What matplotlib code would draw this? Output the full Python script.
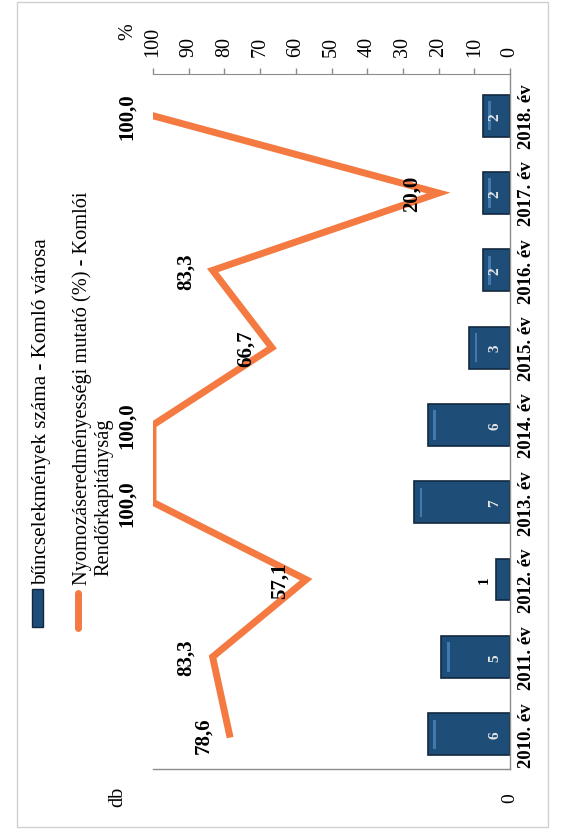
import numpy as np
import matplotlib
matplotlib.use("Agg")
import matplotlib.pyplot as plt
from matplotlib.patches import Rectangle
from matplotlib.lines import Line2D

years = ["2010. év", "2011. év", "2012. év", "2013. év", "2014. év",
         "2015. év", "2016. év", "2017. év", "2018. év"]
crimes = [6, 5, 1, 7, 6, 3, 2, 2, 2]
clearance = [78.6, 83.3, 57.1, 100.0, 100.0, 66.7, 83.3, 20.0, 100.0]
pct_ticks = [0, 10, 20, 30, 40, 50, 60, 70, 80, 90, 100]
legend_labels = ["bűncselekmények száma - Komló városa",
                 "Nyomozáseredményességi mutató (%) - Komlói",
                 "Rendőrkapitányság"]

plt.rcParams['font.family'] = ['Liberation Serif', 'DejaVu Serif']

W, H = 566, 837
fig = plt.figure(figsize=(W / 100, H / 100), dpi=100)
fig.patch.set_facecolor('white')


def fx(px):
    return px / W


def fy(py):
    return 1 - py / H


NAVY = '#1e4d78'
NAVY_EDGE = '#10283f'
HILITE = '#4a86bd'
ORANGE = '#f47a42'
GREY = '#8c8c8c'

ax = fig.add_axes([fx(153), fy(770), fx(510) - fx(153), fy(75) - fy(770)])
idx = np.arange(len(years))
crimes_arr = np.array(crimes, dtype=float)
ax.barh(idx, crimes_arr, height=0.54, color=NAVY, edgecolor=NAVY_EDGE, linewidth=1.2, zorder=2)
# bevel highlight near the bar end
big = crimes_arr >= 2
ax.barh(idx[big], 0.18, left=crimes_arr[big] - 0.6, height=0.38, color=HILITE,
        linewidth=0, alpha=0.8, zorder=2.5)
ax.set_xlim(26, 0)
ax.set_ylim(-0.45, 8.54)

ax.yaxis.tick_right()
ax.set_yticks(idx)
ax.set_yticklabels(years, rotation=90, va='center', fontsize=13.5, fontweight='bold')
ax.tick_params(axis='y', length=0, pad=6)
ax.set_xticks([0])
ax.set_xticklabels(['0'], rotation=90, fontsize=14)
ax.tick_params(axis='x', length=0, pad=17)

for s in ['left', 'top']:
    ax.spines[s].set_visible(False)
for s in ['right', 'bottom']:
    ax.spines[s].set_color(GREY)
    ax.spines[s].set_linewidth(1.0)

for i, c in enumerate(crimes):
    if c >= 2:
        ax.text(1.1, i, str(c), rotation=90, ha='center', va='center',
                color='#e6e6e6', fontsize=11, fontweight='bold', zorder=3)
    else:
        ax.text(c + 0.9, i, str(c), rotation=90, ha='center', va='center',
                color='black', fontsize=11, fontweight='bold', zorder=3)

ax2 = ax.twiny()
ax2.set_xlim(100, 0)
ax2.plot(clearance, idx, color=ORANGE, lw=5, solid_joinstyle='miter', zorder=4)
ax2.set_xticks(pct_ticks)
ax2.set_xticklabels([str(t) for t in pct_ticks], rotation=90, fontsize=14.5)
ax2.tick_params(axis='x', direction='out', length=4, width=1, color=GREY, pad=9)
for s in ['left', 'right', 'bottom']:
    ax2.spines[s].set_visible(False)
ax2.spines['top'].set_color(GREY)

for v, i in zip(clearance, idx):
    ax2.annotate(f"{v:.1f}".replace('.', ','), (v, i), xytext=(-19, 0),
                 textcoords='offset points', rotation=90, ha='center', va='center',
                 fontsize=15, fontweight='bold', color='black', zorder=5)

# axis titles
fig.text(fx(118), fy(797), 'db', rotation=90, ha='center', va='center', fontsize=14.5)
fig.text(fx(128), fy(32), '%', rotation=90, ha='center', va='center', fontsize=14.5)

# legend (rotated)
fig.patches.append(Rectangle((fx(32), fy(628)), fx(43) - fx(32), fy(590) - fy(628),
                             transform=fig.transFigure, facecolor=NAVY,
                             edgecolor=NAVY_EDGE, lw=1))
fig.lines.append(Line2D([fx(78), fx(78)], [fy(629), fy(594)], transform=fig.transFigure,
                        color=ORANGE, lw=5, solid_capstyle='round'))
fig.text(fx(42), fy(585), legend_labels[0], rotation=90, ha='center', va='bottom', fontsize=15.2)
fig.text(fx(82), fy(585), legend_labels[1], rotation=90, ha='center', va='bottom', fontsize=14.7)
fig.text(fx(104), fy(576), legend_labels[2], rotation=90, ha='center', va='bottom', fontsize=14.7)

# outer border
fig.patches.append(Rectangle((fx(17), fy(828)), fx(548) - fx(17), fy(3) - fy(828),
                             transform=fig.transFigure, fill=False,
                             edgecolor='#d0d0d0', lw=1))

fig.savefig('out.png', dpi=100, facecolor='white')
